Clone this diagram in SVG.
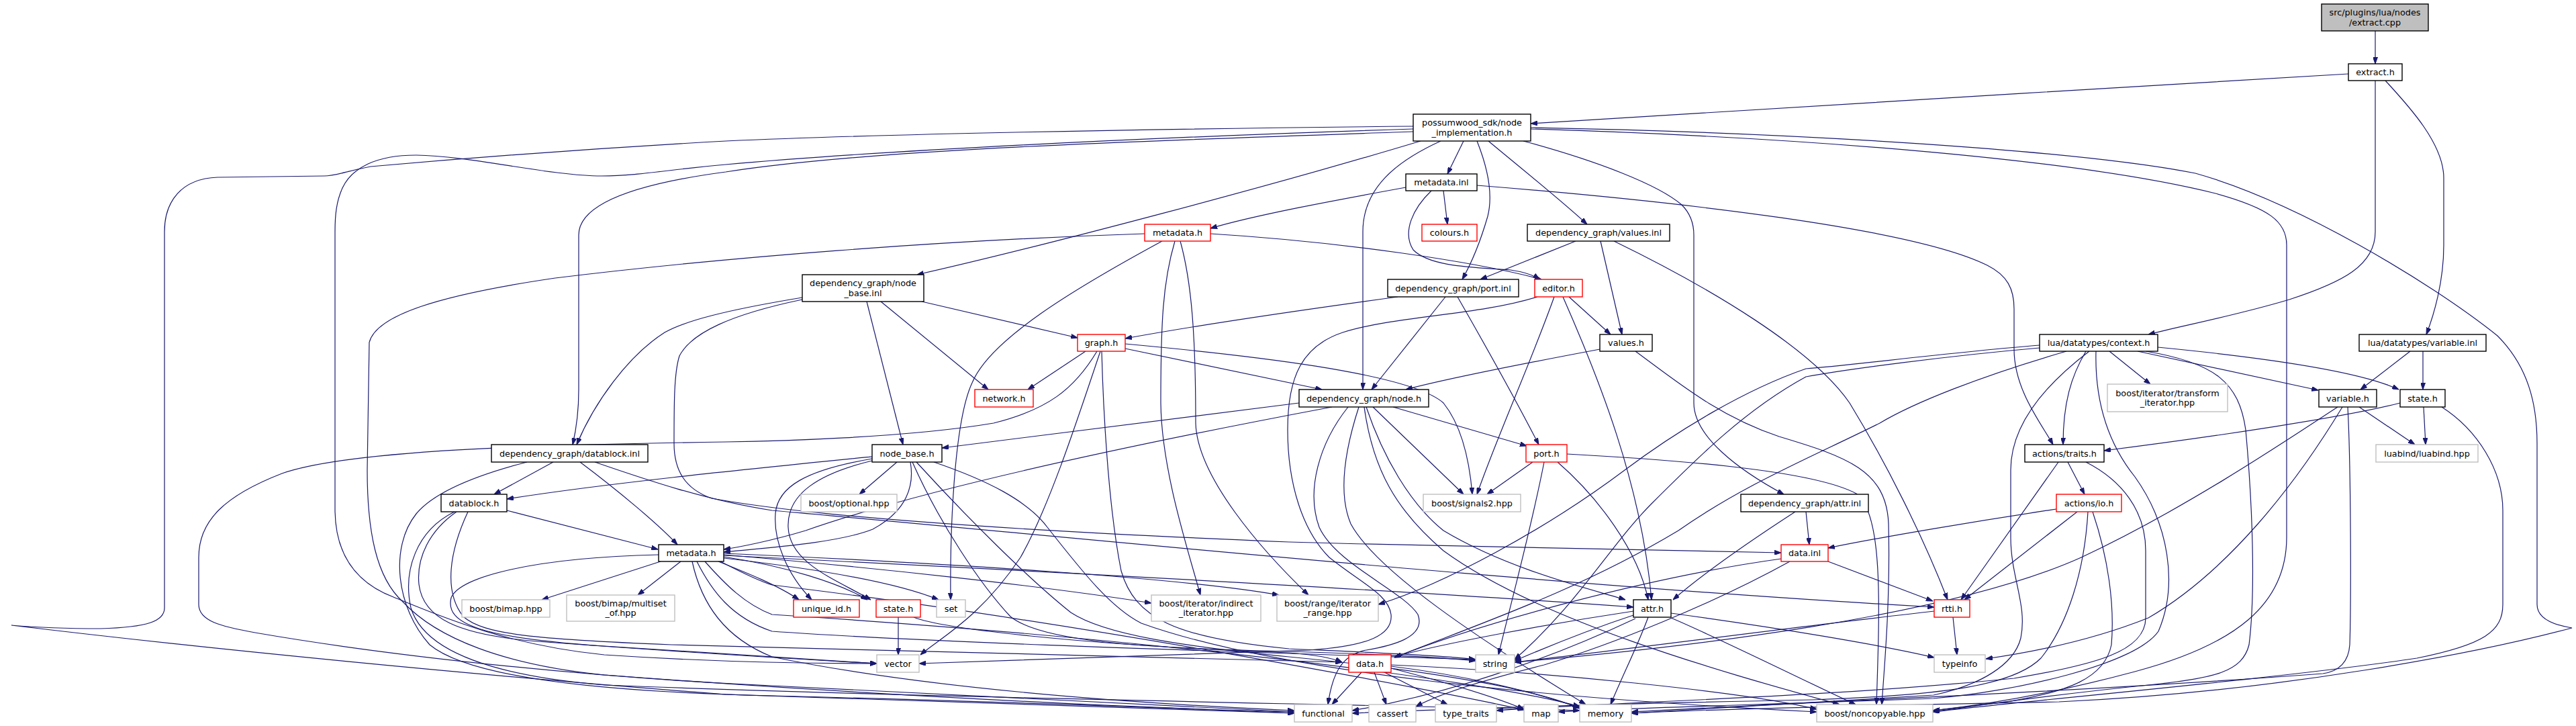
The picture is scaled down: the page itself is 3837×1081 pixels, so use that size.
<svg xmlns="http://www.w3.org/2000/svg" width="3837" height="1081" viewBox="0 0 3837 1081">
<style>
.node rect{fill:#fff;stroke:#000;stroke-width:1.4}
.node.r rect{stroke:#f00}
.node.x rect{stroke:#bfbfbf}
.node text{font-family:"DejaVu Sans","Liberation Sans",sans-serif;font-size:12.8px;text-anchor:middle;fill:#000}
#edges path{fill:none;stroke:#191970;stroke-width:1.2;marker-end:url(#arr)}
</style>
<defs>
<marker id="arr" viewBox="0 0 10 7" refX="10" refY="3.5" markerWidth="10" markerHeight="7" markerUnits="userSpaceOnUse" orient="auto"><path d="M0,0 L10,3.5 L0,7 z" fill="#191970" stroke="#191970" stroke-width="1"/></marker>
</defs>
<rect width="3837" height="1081" fill="#fff"/>
<g id="edges">
<path d="M3538,46 L3538,95"/>
<path d="M3498,110 C3100,132 2650,163 2280,184"/>
<path d="M3538,120 L3538,345 C3538,395 3490,420 3410,446 C3330,470 3250,485 3200,498"/>
<path d="M3553,120 C3590,160 3640,215 3640,265 L3640,365 C3640,420 3625,470 3614,498"/>
<path d="M2105,188 C1700,192 1300,200 1081,210 C900,220 700,235 552,248 C515,255 500,262 483,262 L324,264 C270,266 245,300 245,345 L245,905 C245,925 220,934 150,936 C90,936 40,933 17,931 C300,965 700,1005 1081,1034 C1500,1050 1800,1058 1928,1062"/>
<path d="M2105,192 C1700,205 1300,225 1081,245 C1000,252 950,262 896,262 C820,262 700,232 620,231 C560,231 524,250 510,280 C501,300 499,320 499,345 L499,758 C499,800 510,860 586,889 C650,915 750,960 900,975 C1050,985 1200,988 1306,988"/>
<path d="M2105,196 C1700,210 1300,222 1081,256 C960,272 862,300 862,350 L862,580 C862,620 857,645 853,662"/>
<path d="M2116,210 C1900,275 1560,365 1366,409"/>
<path d="M2146,210 C2080,240 2030,280 2030,345 L2030,580"/>
<path d="M2180,210 L2156,259"/>
<path d="M2200,210 C2216,250 2224,290 2216,322 C2205,360 2190,395 2178,416"/>
<path d="M2217,210 C2265,250 2325,298 2364,334"/>
<path d="M2269,210 C2380,240 2470,275 2505,305 C2518,318 2523,332 2523,350 L2523,600 C2523,650 2590,700 2657,736"/>
<path d="M2280,192 C2700,205 3100,238 3300,288 C3380,310 3406,330 3406,365 L3406,800 C3406,900 3330,960 3180,1000 C3050,1035 2950,1050 2879,1058"/>
<path d="M2280,190 C2700,198 3100,225 3270,258 C3420,300 3620,420 3720,500 C3765,545 3779,600 3779,660 L3779,900 C3779,920 3800,930 3831,935 C3700,970 3400,1030 3067,1045 C2800,1050 2550,1056 2430,1062"/>
<path d="M2094,279 C1990,298 1870,320 1803,340"/>
<path d="M2150,284 L2156,334"/>
<path d="M2132,284 C2105,310 2088,345 2105,372 C2130,398 2200,398 2250,402 C2270,405 2285,410 2293,416"/>
<path d="M2200,276 C2500,300 2850,340 2960,395 C2990,410 3000,430 3000,460 L3000,520 C3000,580 3040,630 3058,662"/>
<path d="M1803,348 C2000,360 2200,390 2296,416"/>
<path d="M1731,359 C1600,430 1475,505 1448,570 C1420,630 1415,800 1416,893"/>
<path d="M1750,359 C1732,420 1729,480 1729,600 C1730,700 1770,820 1788,886"/>
<path d="M1758,359 C1775,420 1781,500 1781,630 C1783,710 1880,820 1949,886"/>
<path d="M1705,348 C1400,358 1081,383 827,414 C650,440 560,470 550,510 L547,700 C547,790 560,860 600,896 C650,950 750,990 900,1005 C1300,1035 1700,1055 1928,1060"/>
<path d="M1291,449 L1345,662"/>
<path d="M1312,449 L1472,580"/>
<path d="M1373,449 L1605,503"/>
<path d="M1195,443 C1080,462 1020,478 990,495 C935,530 885,600 859,662"/>
<path d="M1195,446 C1090,468 1030,495 1012,530 C1004,555 1004,600 1004,660 C1004,700 1020,728 1060,742 C1200,768 1500,790 1920,807 C2200,815 2500,820 2653,823"/>
<path d="M824,688 L736,736"/>
<path d="M864,688 C920,730 980,780 1009,811"/>
<path d="M886,688 C950,710 1050,745 1150,760 C1600,800 2300,872 2881,904"/>
<path d="M785,688 C700,710 645,735 620,765 C580,815 590,905 640,960 C700,1010 900,1030 1150,1036 C1500,1045 1800,1056 1928,1062"/>
<path d="M1299,680 C1100,700 900,720 755,743"/>
<path d="M1299,683 C1200,700 1158,725 1155,765 C1152,805 1172,855 1209,893"/>
<path d="M1299,686 C1220,705 1172,735 1174,785 C1176,840 1250,865 1297,893"/>
<path d="M1336,688 L1280,736"/>
<path d="M1356,688 C1362,722 1352,760 1300,788 C1250,808 1150,815 1078,822"/>
<path d="M1359,688 C1400,780 1460,870 1505,918 C1550,955 1700,965 1920,970 C2050,974 2150,979 2198,984"/>
<path d="M1365,688 C1440,770 1530,860 1595,912 C1645,945 1760,962 1920,978 C2150,1000 2300,1030 2353,1055"/>
<path d="M1391,688 C1470,715 1530,745 1560,785 C1615,855 1655,905 1700,928 C1900,1000 2300,1040 2706,1060"/>
<path d="M1338,919 L1338,975"/>
<path d="M1361,919 C1400,935 1600,960 1920,972 C1960,975 1985,980 1999,986"/>
<path d="M981,826 C800,830 685,858 672,890 C662,930 720,950 900,962 C1100,974 1250,984 1306,988"/>
<path d="M984,836 L807,893"/>
<path d="M1014,836 L950,886"/>
<path d="M1078,831 C1200,845 1330,865 1398,893"/>
<path d="M1078,829 C1170,843 1250,868 1292,893"/>
<path d="M1070,836 C1110,852 1160,872 1190,893"/>
<path d="M1078,826 C1300,845 1550,872 1715,898"/>
<path d="M1078,824 C1400,838 1760,860 1905,886"/>
<path d="M1078,827 C1500,848 2100,880 2433,904"/>
<path d="M1031,836 C1045,900 1080,950 1150,978 C1400,1030 1750,1050 1928,1058"/>
<path d="M1038,836 C1060,880 1090,920 1150,940 C1400,958 1900,972 2198,982"/>
<path d="M1050,836 C1080,870 1110,900 1150,915 C1700,950 2200,1010 2353,1052"/>
<path d="M1073,836 C1100,850 1130,865 1150,871 C1600,925 2150,1030 2270,1057"/>
<path d="M755,760 L980,818"/>
<path d="M680,762 C640,790 620,830 624,870 C630,920 680,945 800,955 C1000,970 1200,982 1306,988"/>
<path d="M697,762 C670,820 660,880 690,918 C720,945 800,952 1000,960 C1400,972 1800,982 1999,986"/>
<path d="M677,762 C620,790 600,850 612,905 C630,965 720,1005 900,1020 C1400,1040 2100,1050 2353,1058"/>
<path d="M1935,600 C1700,628 1500,655 1403,667"/>
<path d="M1984,606 C1750,650 1400,720 1200,790 C1150,805 1100,815 1078,818"/>
<path d="M2008,606 C1965,660 1945,730 1965,785 C1990,840 2090,880 2112,915 C2125,950 2070,962 2035,968 C2000,975 1985,1000 1978,1049"/>
<path d="M2024,606 C2000,680 1995,740 2012,780 C2050,850 2200,950 2362,1049"/>
<path d="M2032,606 C2045,700 2080,760 2150,820 C2300,930 2600,1010 2740,1049"/>
<path d="M2035,606 C2060,680 2100,750 2150,790 C2250,850 2380,880 2421,893"/>
<path d="M2045,606 L2180,736"/>
<path d="M2075,606 L2274,664"/>
<path d="M1617,523 L1531,580"/>
<path d="M1634,523 C1600,580 1560,610 1480,630 C1350,652 1150,657 1081,658 C800,662 520,670 420,705 C335,738 296,775 296,830 L296,900 C296,925 330,933 380,942 C600,980 900,1010 1150,1021 C1500,1040 1800,1055 1928,1060"/>
<path d="M1639,523 C1600,640 1560,760 1520,830 C1460,920 1400,950 1371,975"/>
<path d="M1641,523 C1643,600 1650,750 1670,850 C1690,920 1750,950 1920,966 C2050,972 2150,976 2198,982"/>
<path d="M1676,512 C1850,528 2100,555 2150,600 C2182,640 2190,700 2193,736"/>
<path d="M1676,519 C1800,545 1900,565 1969,580"/>
<path d="M2082,442 C1950,460 1780,485 1676,504"/>
<path d="M2153,442 L2043,580"/>
<path d="M2171,442 C2210,510 2260,600 2292,662"/>
<path d="M2315,442 C2280,540 2230,650 2200,736"/>
<path d="M2328,442 C2380,560 2445,720 2460,893"/>
<path d="M2337,442 L2399,498"/>
<path d="M2290,442 C2200,470 2080,470 2000,495 C1940,515 1918,560 1918,640 C1918,720 1940,790 1980,830 C2030,870 2068,885 2072,915 C2075,945 2040,962 1950,968 C1700,978 1500,985 1369,988"/>
<path d="M2347,359 L2205,416"/>
<path d="M2384,359 L2416,498"/>
<path d="M2404,359 C2550,430 2700,520 2755,600 C2810,690 2865,800 2901,893"/>
<path d="M2383,520 C2250,545 2150,565 2094,580"/>
<path d="M2436,523 C2500,570 2560,620 2650,650 C2750,680 2810,700 2813,780 C2816,900 2806,1000 2803,1049"/>
<path d="M2283,688 L2215,736"/>
<path d="M2300,688 C2280,790 2250,900 2232,975"/>
<path d="M2320,688 C2380,740 2440,820 2455,893"/>
<path d="M2334,676 C2500,685 2700,700 2765,735 C2805,765 2800,900 2795,1049"/>
<path d="M2674,762 C2600,810 2530,860 2492,893"/>
<path d="M2690,762 L2695,811"/>
<path d="M2653,832 C2450,860 2200,930 2077,979"/>
<path d="M2723,836 L2879,895"/>
<path d="M2666,836 C2550,900 2400,960 2300,990 C2200,1015 2140,1035 2109,1052"/>
<path d="M2433,910 C2300,930 2150,958 2077,978"/>
<path d="M2433,916 C2360,940 2300,965 2256,984"/>
<path d="M2455,919 C2440,960 2415,1010 2399,1049"/>
<path d="M2489,913 C2650,935 2800,960 2881,979"/>
<path d="M2489,920 C2560,950 2680,1010 2764,1049"/>
<path d="M2436,921 C2300,985 2150,1035 2014,1058"/>
<path d="M2028,1001 L1984,1049"/>
<path d="M2047,1001 L2065,1049"/>
<path d="M2062,1001 L2156,1049"/>
<path d="M2072,995 C2150,1015 2220,1035 2270,1056"/>
<path d="M2072,992 C2200,1008 2300,1035 2353,1054"/>
<path d="M2072,990 C2300,1000 2600,1030 2706,1056"/>
<path d="M2909,919 L2915,975"/>
<path d="M2881,910 C2700,930 2400,970 2256,986"/>
<path d="M3107,523 C3085,560 3073,600 3073,662"/>
<path d="M3142,523 L3203,572"/>
<path d="M3184,523 L3453,581"/>
<path d="M3214,517 C3400,535 3520,555 3573,580"/>
<path d="M3038,514 C2900,525 2750,545 2690,549 C2600,580 2500,640 2420,700 C2300,790 2150,870 2053,900"/>
<path d="M3038,518 C2900,530 2750,550 2690,561 C2600,610 2530,680 2460,750 C2400,810 2350,900 2256,982"/>
<path d="M3078,523 C2950,560 2850,600 2800,630 C2700,680 2600,720 2500,790 C2350,880 2200,930 2077,979"/>
<path d="M3112,523 C3050,570 2995,630 2995,700 L2995,800 C2995,860 3020,900 3010,950 C3000,990 2950,1020 2880,1035 C2700,1045 2550,1055 2430,1062"/>
<path d="M3122,523 C3120,600 3140,660 3180,710 C3230,780 3245,870 3215,940 C3180,990 3000,1030 2880,1040 C2600,1050 2400,1055 2321,1060"/>
<path d="M3196,523 C3300,540 3335,570 3345,640 C3355,750 3360,880 3350,960 C3340,1000 3300,1010 3200,1020 C3050,1035 2950,1050 2879,1060"/>
<path d="M3066,688 L2921,893"/>
<path d="M3080,688 L3105,736"/>
<path d="M3107,688 C3160,715 3196,760 3196,820 L3196,920 C3196,970 3120,990 3000,1010 C2700,1040 2400,1045 2229,1058"/>
<path d="M3063,758 C2950,775 2800,800 2723,816"/>
<path d="M3094,762 L2926,893"/>
<path d="M3110,762 C3105,850 3080,930 3040,980 C3000,1020 2900,1035 2700,1042 C2400,1048 2150,1056 2014,1062"/>
<path d="M3117,762 C3140,830 3150,900 3145,960 C3135,1010 3080,1030 2990,1045 C2930,1052 2900,1056 2879,1058"/>
<path d="M3575,600 C3500,620 3300,650 3134,671"/>
<path d="M3610,606 L3613,662"/>
<path d="M3637,606 C3690,640 3728,700 3728,760 L3728,900 C3728,940 3700,960 3600,980 C3400,1010 3000,1045 2879,1060"/>
<path d="M3514,606 L3597,662"/>
<path d="M3482,606 C3400,660 3250,760 3100,830 C2900,920 2500,965 2256,986"/>
<path d="M3489,606 C3420,720 3320,850 3200,920 C3100,960 3000,975 2958,981"/>
<path d="M3497,606 C3502,700 3502,900 3500,960 C3498,990 3480,1000 3460,1003 C3100,1030 2700,1045 2430,1060"/>
<path d="M3590,523 L3516,580"/>
<path d="M3609,523 L3609,580"/>
</g>
<g id="n1" class="node"><rect x="3458" y="6" width="159" height="40" style="fill:#bfbfbf"/><text x="3537.5" y="23.2">src/plugins/lua/nodes</text><text x="3537.5" y="37.9">/extract.cpp</text></g>
<g id="n2" class="node"><rect x="3498" y="95" width="80" height="25"/><text x="3538" y="112">extract.h</text></g>
<g id="n3" class="node"><rect x="2105" y="170" width="175" height="40"/><text x="2192.5" y="187.2">possumwood_sdk/node</text><text x="2192.5" y="201.9">_implementation.h</text></g>
<g id="n4" class="node"><rect x="2094" y="259" width="106" height="25"/><text x="2147" y="276">metadata.inl</text></g>
<g id="n5" class="node r"><rect x="1705" y="334" width="98" height="25"/><text x="1754" y="351">metadata.h</text></g>
<g id="n6" class="node r"><rect x="2118" y="334" width="82" height="25"/><text x="2159" y="351">colours.h</text></g>
<g id="n7" class="node"><rect x="2275" y="334" width="212" height="25"/><text x="2381" y="351">dependency_graph/values.inl</text></g>
<g id="n8" class="node"><rect x="1195" y="409" width="181" height="40"/><text x="1285.5" y="426.2">dependency_graph/node</text><text x="1285.5" y="440.9">_base.inl</text></g>
<g id="n9" class="node"><rect x="2067" y="416" width="195" height="26"/><text x="2164.5" y="433.5">dependency_graph/port.inl</text></g>
<g id="n10" class="node r"><rect x="2286" y="416" width="71" height="26"/><text x="2321.5" y="433.5">editor.h</text></g>
<g id="n11" class="node r"><rect x="1605" y="498" width="71" height="25"/><text x="1640.5" y="515">graph.h</text></g>
<g id="n12" class="node"><rect x="2383" y="498" width="78" height="25"/><text x="2422" y="515">values.h</text></g>
<g id="n13" class="node"><rect x="3038" y="498" width="176" height="25"/><text x="3126" y="515">lua/datatypes/context.h</text></g>
<g id="n14" class="node"><rect x="3514" y="498" width="189" height="25"/><text x="3608.5" y="515">lua/datatypes/variable.inl</text></g>
<g id="n15" class="node r"><rect x="1452" y="580" width="87" height="26"/><text x="1495.5" y="597.5">network.h</text></g>
<g id="n16" class="node"><rect x="1935" y="580" width="193" height="26"/><text x="2031.5" y="597.5">dependency_graph/node.h</text></g>
<g id="n17" class="node x"><rect x="3139" y="572" width="179" height="41"/><text x="3228.5" y="589.7">boost/iterator/transform</text><text x="3228.5" y="604.4">_iterator.hpp</text></g>
<g id="n18" class="node"><rect x="3454" y="580" width="86" height="26"/><text x="3497" y="597.5">variable.h</text></g>
<g id="n19" class="node"><rect x="3575" y="580" width="67" height="26"/><text x="3608.5" y="597.5">state.h</text></g>
<g id="n20" class="node"><rect x="732" y="662" width="233" height="26"/><text x="848.5" y="679.5">dependency_graph/datablock.inl</text></g>
<g id="n21" class="node"><rect x="1299" y="662" width="104" height="26"/><text x="1351" y="679.5">node_base.h</text></g>
<g id="n22" class="node r"><rect x="2273" y="662" width="61" height="26"/><text x="2303.5" y="679.5">port.h</text></g>
<g id="n23" class="node"><rect x="3016" y="662" width="118" height="26"/><text x="3075" y="679.5">actions/traits.h</text></g>
<g id="n24" class="node x"><rect x="3539" y="662" width="152" height="26"/><text x="3615" y="679.5">luabind/luabind.hpp</text></g>
<g id="n25" class="node"><rect x="657" y="736" width="98" height="26"/><text x="706" y="753.5">datablock.h</text></g>
<g id="n26" class="node x"><rect x="1193" y="736" width="143" height="26"/><text x="1264.5" y="753.5">boost/optional.hpp</text></g>
<g id="n27" class="node x"><rect x="2120" y="736" width="145" height="26"/><text x="2192.5" y="753.5">boost/signals2.hpp</text></g>
<g id="n28" class="node"><rect x="2593" y="736" width="190" height="26"/><text x="2688" y="753.5">dependency_graph/attr.inl</text></g>
<g id="n29" class="node r"><rect x="3063" y="736" width="97" height="26"/><text x="3111.5" y="753.5">actions/io.h</text></g>
<g id="n30" class="node"><rect x="981" y="811" width="97" height="25"/><text x="1029.5" y="828">metadata.h</text></g>
<g id="n31" class="node r"><rect x="2653" y="811" width="70" height="25"/><text x="2688" y="828">data.inl</text></g>
<g id="n32" class="node x"><rect x="688" y="893" width="131" height="26"/><text x="753.5" y="910.5">boost/bimap.hpp</text></g>
<g id="n33" class="node x"><rect x="844" y="886" width="161" height="39"/><text x="924.5" y="902.7">boost/bimap/multiset</text><text x="924.5" y="917.4">_of.hpp</text></g>
<g id="n34" class="node r"><rect x="1182" y="893" width="98" height="26"/><text x="1231" y="910.5">unique_id.h</text></g>
<g id="n35" class="node r"><rect x="1305" y="893" width="66" height="26"/><text x="1338" y="910.5">state.h</text></g>
<g id="n36" class="node x"><rect x="1395" y="893" width="43" height="26"/><text x="1416.5" y="910.5">set</text></g>
<g id="n37" class="node x"><rect x="1715" y="886" width="163" height="39"/><text x="1796.5" y="902.7">boost/iterator/indirect</text><text x="1796.5" y="917.4">_iterator.hpp</text></g>
<g id="n38" class="node x"><rect x="1902" y="886" width="151" height="39"/><text x="1977.5" y="902.7">boost/range/iterator</text><text x="1977.5" y="917.4">_range.hpp</text></g>
<g id="n39" class="node"><rect x="2433" y="893" width="56" height="26"/><text x="2461" y="910.5">attr.h</text></g>
<g id="n40" class="node r"><rect x="2881" y="893" width="53" height="26"/><text x="2907.5" y="910.5">rtti.h</text></g>
<g id="n41" class="node x"><rect x="1306" y="975" width="63" height="26"/><text x="1337.5" y="992.5">vector</text></g>
<g id="n42" class="node r"><rect x="2009" y="975" width="63" height="26"/><text x="2040.5" y="992.5">data.h</text></g>
<g id="n43" class="node x"><rect x="2198" y="975" width="58" height="26"/><text x="2227" y="992.5">string</text></g>
<g id="n44" class="node x"><rect x="2881" y="975" width="76" height="26"/><text x="2919" y="992.5">typeinfo</text></g>
<g id="n45" class="node x"><rect x="1928" y="1049" width="86" height="26"/><text x="1971" y="1066.5">functional</text></g>
<g id="n46" class="node x"><rect x="2039" y="1049" width="70" height="26"/><text x="2074" y="1066.5">cassert</text></g>
<g id="n47" class="node x"><rect x="2138" y="1049" width="91" height="26"/><text x="2183.5" y="1066.5">type_traits</text></g>
<g id="n48" class="node x"><rect x="2270" y="1049" width="51" height="26"/><text x="2295.5" y="1066.5">map</text></g>
<g id="n49" class="node x"><rect x="2353" y="1049" width="77" height="26"/><text x="2391.5" y="1066.5">memory</text></g>
<g id="n50" class="node x"><rect x="2706" y="1049" width="173" height="26"/><text x="2792.5" y="1066.5">boost/noncopyable.hpp</text></g>
</svg>
